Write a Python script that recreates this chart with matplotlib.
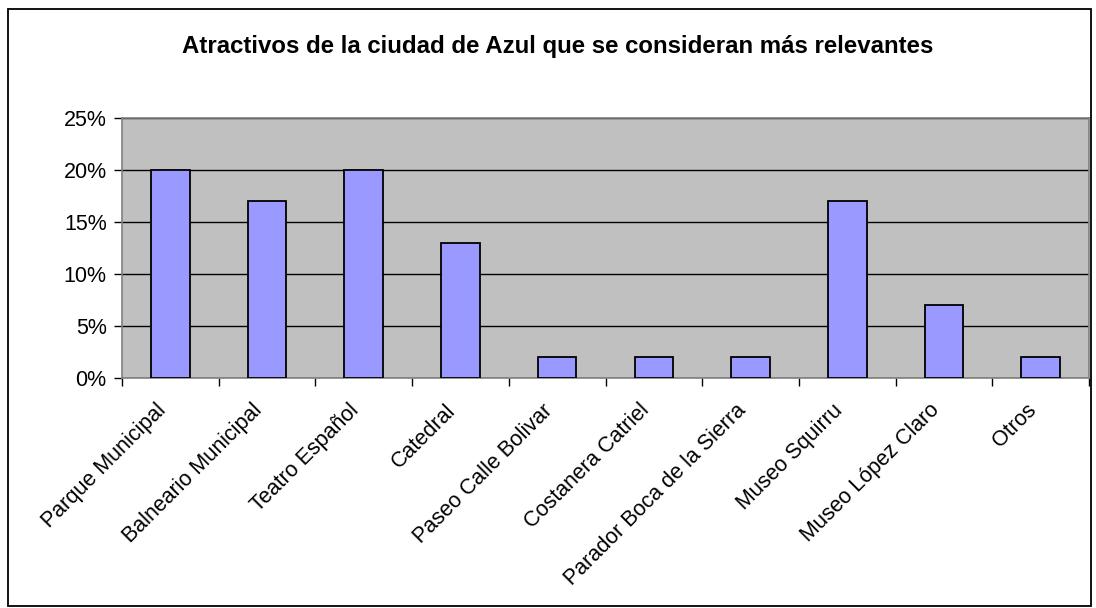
import matplotlib.pyplot as plt
import matplotlib.patches as patches
import matplotlib.transforms as mtransforms
import numpy as np
from matplotlib.ticker import FuncFormatter

plt.rcParams["font.family"] = ["Liberation Sans", "DejaVu Sans"]

# Data
categories = [
    "Parque Municipal",
    "Balneario Municipal",
    "Teatro Español",
    "Catedral",
    "Paseo Calle Bolivar",
    "Costanera Catriel",
    "Parador Boca de la Sierra",
    "Museo Squirru",
    "Museo López Claro",
    "Otros",
]
values = [20, 17, 20, 13, 2, 2, 2, 17, 7, 2]
y_ticks = [0, 5, 10, 15, 20, 25]

W, H = 1096, 608
fig = plt.figure(figsize=(W / 100, H / 100), dpi=100, facecolor="white")

# Outer chart border
fig.patches.append(
    patches.Rectangle(
        (8 / W, 1 - 606 / H), (1091 - 8) / W, (606 - 9) / H,
        transform=fig.transFigure, fill=False, edgecolor="black", linewidth=1.3
    )
)

ax = fig.add_axes([122 / W, 1 - 378 / H, (1089 - 122) / W, (378 - 118) / H])
ax.set_facecolor("#C0C0C0")
for s in ax.spines.values():
    s.set_edgecolor("#808080")
    s.set_linewidth(1.2)

x = np.arange(len(categories))
ax.bar(x, values, width=0.4, color="#9999FF", edgecolor="black", linewidth=1.3, zorder=3)

ax.set_xlim(-0.5, len(categories) - 0.5)
ax.set_ylim(0, 25)
ax.set_yticks(y_ticks)
ax.yaxis.set_major_formatter(FuncFormatter(lambda v, _: f"{v:.0f}%"))
ax.yaxis.grid(True, color="black", linewidth=1.0, zorder=1)
ax.set_axisbelow(True)

# ticks between categories, labels at centres
ax.set_xticks(np.arange(len(categories) + 1) - 0.5)
ax.set_xticklabels([])
ax.set_xticks(x, minor=True)
ax.set_xticklabels(categories, minor=True, rotation=45, ha="right",
                   rotation_mode="anchor", fontsize=15.5)
ax.tick_params(axis="x", which="minor", length=0, pad=10)
ax.tick_params(axis="x", which="major", length=6, width=1, direction="out")
ax.tick_params(axis="y", length=6, width=1, direction="out", labelsize=15.5, pad=5)

# nudge the rotated labels a little down-left
shift = mtransforms.ScaledTranslation(-15 / 100, -8 / 100, fig.dpi_scale_trans)
for lbl in ax.get_xticklabels(minor=True):
    lbl.set_transform(lbl.get_transform() + shift)

fig.text(558 / W, 1 - 47 / H, "Atractivos de la ciudad de Azul que se consideran más relevantes",
         ha="center", va="center", fontsize=17.3, fontweight="bold")

fig.savefig("out.png", dpi=100, facecolor="white")
